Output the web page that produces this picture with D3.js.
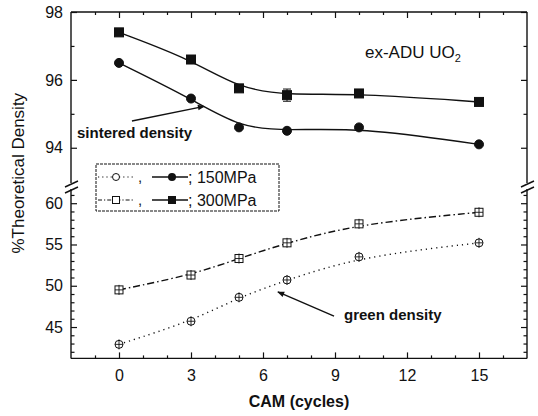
<!DOCTYPE html>
<html>
<head>
<meta charset="utf-8">
<script src="https://cdn.jsdelivr.net/npm/d3@7/dist/d3.min.js"></script>
<style>
    body { margin: 0; background: #fff; }
    text { font-family: "Liberation Sans", Arial, sans-serif; fill: #111; }
    .tick line { stroke: #111; stroke-width: 1.2; }
    .tick text { font-size: 16px; }
</style>
</head>
<body>
<svg id="chart" width="538" height="416"></svg>
<script>
const cycles = [0, 3, 5, 7, 10, 15];
const sintered150 = [96.5, 95.45, 94.6, 94.5, 94.6, 94.1];
const sintered300 = [97.4, 96.6, 95.75, 95.55, 95.6, 95.35];
const sintered300Err = [0, 0, 0, 0.18, 0, 0];
const green150 = [42.9, 45.7, 48.6, 50.7, 53.5, 55.2];
const green300 = [49.5, 51.3, 53.3, 55.2, 57.5, 58.9];

const xTicks = [0, 3, 6, 9, 12, 15];
const topTicks = [94, 96, 98];
const bottomTicks = [45, 50, 55, 60];
const legendLabels = ["; 150MPa", "; 300MPa"];

// small stand-in for d3-selection-multi
d3.selection.prototype.attrs = function (obj) {
    for (const k in obj) this.attr(k, obj[k]);
    return this;
};

const frame = {left: 71, right: 527, top: 12, bottom: 358.4},
    breakTop = 180, breakBottom = 190;

const svg = d3.select("#chart");

const x = d3.scaleLinear().domain([-2, 17]).range([frame.left, frame.right]);
const yTop = d3.scaleLinear().domain([93.05, 98]).range([breakTop, frame.top]);
const yBot = d3.scaleLinear().domain([41.2, 61.6]).range([frame.bottom, breakBottom]);

// frame with broken left/right sides
const frameG = svg.append("g").attr("stroke", "#111").attr("stroke-width", 1.4);
frameG.append("line").attrs({x1: frame.left, y1: frame.top, x2: frame.right, y2: frame.top});
frameG.append("line").attrs({x1: frame.left, y1: frame.bottom, x2: frame.right, y2: frame.bottom});
[frame.left, frame.right].forEach(px => {
    frameG.append("line").attrs({x1: px, y1: frame.top, x2: px, y2: breakTop + 3});
    frameG.append("line").attrs({x1: px, y1: breakBottom - 1, x2: px, y2: frame.bottom});
    for (const off of [0, 6]) {
        frameG.append("line").attrs({x1: px - 6, y1: breakTop + 7 + off, x2: px + 7, y2: breakTop + 1 + off});
    }
});

function addAxis(axis, transform, labels) {
    const g = svg.append("g").attr("transform", transform).call(axis.tickFormat(d3.format("d")));
    g.select(".domain").remove();
    if (!labels) g.selectAll("text").remove();
    return g;
}
const minor = (lo, hi, skip) => d3.range(lo, hi + 1).filter(v => !skip.includes(v));

// x axes
addAxis(d3.axisBottom(x).tickValues(xTicks).tickSize(-6).tickPadding(11), `translate(0,${frame.bottom})`, true);
addAxis(d3.axisBottom(x).tickValues(minor(-1, 16, xTicks)).tickSize(-3), `translate(0,${frame.bottom})`);
addAxis(d3.axisTop(x).tickValues(xTicks).tickSize(-6), `translate(0,${frame.top})`);
addAxis(d3.axisTop(x).tickValues(minor(-1, 16, xTicks)).tickSize(-3), `translate(0,${frame.top})`);

// y axes, both panels
[[yTop, topTicks, minor(94, 97, topTicks)], [yBot, bottomTicks, minor(42, 61, bottomTicks)]].forEach(([s, major, mn]) => {
    addAxis(d3.axisLeft(s).tickValues(major).tickSize(-6).tickPadding(8), `translate(${frame.left},0)`, true);
    addAxis(d3.axisLeft(s).tickValues(mn).tickSize(-3.5), `translate(${frame.left},0)`);
    addAxis(d3.axisRight(s).tickValues(major).tickSize(-6), `translate(${frame.right},0)`);
    addAxis(d3.axisRight(s).tickValues(mn).tickSize(-3.5), `translate(${frame.right},0)`);
});

// series
const series = [
    {values: sintered300, y: yTop, dash: null, symbol: "square", filled: true, err: sintered300Err},
    {values: sintered150, y: yTop, dash: null, symbol: "circle", filled: true},
    {values: green300, y: yBot, dash: "7,3,1.5,3", symbol: "square", filled: false},
    {values: green150, y: yBot, dash: "1.2,4", symbol: "circle", filled: false},
];

function drawSymbol(g, kind, filled, cx, cy) {
    if (kind === "circle") {
        g.append("circle").attrs({cx: cx, cy: cy, r: filled ? 4.5 : 4,
            fill: filled ? "#111" : "#fff", stroke: "#111", "stroke-width": 1});
    } else {
        const h = filled ? 4.5 : 4;
        g.append("rect").attrs({x: cx - h, y: cy - h, width: 2 * h, height: 2 * h,
            fill: filled ? "#111" : "#fff", stroke: "#111", "stroke-width": 1});
    }
    if (!filled) {
        g.append("line").attrs({x1: cx, y1: cy - 5, x2: cx, y2: cy + 5, stroke: "#111", "stroke-width": 0.9});
        g.append("line").attrs({x1: cx - 4, y1: cy, x2: cx + 4, y2: cy, stroke: "#111", "stroke-width": 0.9});
    }
}

const plot = svg.append("g");
series.forEach(s => {
    const pts = cycles.map((c, i) => [x(c), s.y(s.values[i])]);
    plot.append("path")
        .attr("d", d3.line().curve(d3.curveBasis)(pts))
        .attrs({fill: "none", stroke: "#111", "stroke-width": 1.4})
        .attr("stroke-dasharray", s.dash);
    cycles.forEach((c, i) => {
        if (s.err && s.err[i] > 0) {
            const cx = x(c), y1 = s.y(s.values[i] + s.err[i]), y2 = s.y(s.values[i] - s.err[i]);
            plot.append("line").attrs({x1: cx, y1: y1, x2: cx, y2: y2, stroke: "#111", "stroke-width": 1});
            [y1, y2].forEach(yy => plot.append("line").attrs({x1: cx - 4, y1: yy, x2: cx + 4, y2: yy, stroke: "#111", "stroke-width": 1}));
        }
        drawSymbol(plot, s.symbol, s.filled, x(c), s.y(s.values[i]));
    });
});

// legend
const legend = svg.append("g");
legend.append("rect").attrs({x: 96, y: 164, width: 183, height: 47, fill: "#fff", stroke: "#111", "stroke-width": 1, "stroke-dasharray": "3,1"});
[["circle", "1.2,3"], ["square", "4,2,1.2,2"]].forEach(([sym, dash], i) => {
    const ly = 177 + i * 23;
    legend.append("line").attrs({x1: 98, y1: ly, x2: 134, y2: ly, stroke: "#111", "stroke-width": 1.2, "stroke-dasharray": dash});
    legend.append("text").attrs({x: 138, y: ly + 5}).style("font-size", "15px").text(",");
    legend.append("line").attrs({x1: 152, y1: ly, x2: 188, y2: ly, stroke: "#111", "stroke-width": 1.4});
    const g = legend.append("g");
    if (sym === "circle") {
        g.append("circle").attrs({cx: 116, cy: ly, r: 3.5, fill: "#fff", stroke: "#111"});
        g.append("circle").attrs({cx: 172, cy: ly, r: 4, fill: "#111"});
    } else {
        g.append("rect").attrs({x: 112.5, y: ly - 3.5, width: 7, height: 7, fill: "#fff", stroke: "#111"});
        g.append("rect").attrs({x: 168, y: ly - 4, width: 8, height: 8, fill: "#111"});
    }
    legend.append("text").attrs({x: 188, y: ly + 6}).style("font-size", "16px").text(legendLabels[i]);
});

// annotations
const arrowG = svg.append("g");
svg.append("defs").append("marker")
    .attrs({id: "arrow", viewBox: "0 0 10 10", refX: 9, refY: 5, markerWidth: 9, markerHeight: 7, orient: "auto", markerUnits: "userSpaceOnUse"})
    .append("path").attr("d", "M0,1 L10,5 L0,9 Z").attr("fill", "#111");

arrowG.append("line")
    .attrs({x1: x(0.54), y1: yTop(94.79), x2: x(3.55), y2: yTop(95.22), stroke: "#111", "stroke-width": 1.4, "marker-end": "url(#arrow)"});
arrowG.append("line")
    .attrs({x1: x(8.96), y1: yBot(46.33), x2: x(6.62), y2: yBot(49.25), stroke: "#111", "stroke-width": 1.4, "marker-end": "url(#arrow)"});

svg.append("text").attrs({x: x(-1.75), y: yTop(94.44), dy: "0.35em"})
    .style("font-size", "15px").style("font-weight", "bold").text("sintered density");
svg.append("text").attrs({x: x(9.375), y: yBot(46.45), dy: "0.35em"})
    .style("font-size", "15px").style("font-weight", "bold").text("green density");

const title = svg.append("text").attrs({x: x(10.25), y: yTop(96.65)}).style("font-size", "17px");
title.append("tspan").text("ex-ADU UO");
title.append("tspan").attr("dy", 4).style("font-size", "11px").text("2");

// axis titles
svg.append("text")
    .attr("transform", `translate(24,${(frame.top + frame.bottom) / 2 - 12}) rotate(-90)`)
    .attr("text-anchor", "middle")
    .style("font-size", "17px")
    .text("%Theoretical Density");
svg.append("text")
    .attrs({x: 299, y: 407, "text-anchor": "middle"})
    .style("font-size", "16px").style("font-weight", "bold")
    .text("CAM (cycles)");
</script>
</body>
</html>
